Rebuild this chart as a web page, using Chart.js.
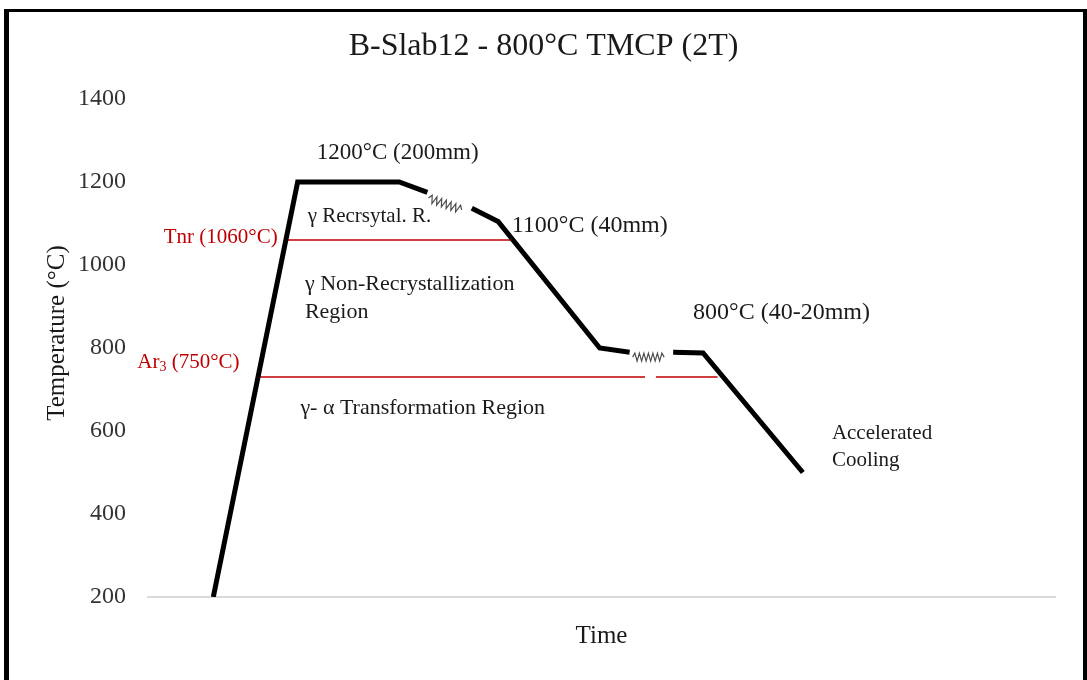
<!DOCTYPE html>
<html>
<head>
<meta charset="utf-8">
<title>B-Slab12 - 800°C TMCP (2T)</title>
<script src="https://cdn.jsdelivr.net/npm/chart.js"></script>
<style>
  html, body { margin: 0; padding: 0; background: #fff; }
  #wrap { width: 1087px; height: 680px; }
</style>
</head>
<body>
<div id="wrap"><canvas id="tmcpChart" width="1087" height="680"></canvas></div>
<script>
// temperature profile (time in arbitrary units, null = break in the line)
const profileTime = [7.2, 16.5, 27.7, 30.8, 33.2, 35.7, 38.6, 49.8, 53.1, 55.5, 57.9, 61.2, 72.2];
const profileTemp = [200, 1200, 1200, 1175, null, 1137, 1105, 800, 790, null, 790, 788, 500];

// Tnr and Ar3 reference lines
const tnrTime = [15.4, 40.1];
const tnrTemp = [1060, 1060];
const ar3Time = [12.1, 54.8, 55.4, 56.0, 62.8];
const ar3Temp = [730, 730, null, 730, 730];

// y axis ticks
const tempMin = 200;
const tempMax = 1400;
const tempStep = 200;

const chartTitle = 'B-Slab12 - 800°C TMCP (2T)';
const yTitle = 'Temperature (°C)';

const serif = "'Liberation Serif', 'Times New Roman', serif";

function toPoints(xs, ys) {
    return xs.map((x, i) => ({ x: x, y: ys[i] }));
}

// the two "break" squiggles sit in the gaps of the profile line
const breakPairs = [[3, 5], [8, 10]];

const squigglePlugin = {
    id: 'squiggles',
    afterDatasetsDraw(chart) {
        const ctx = chart.ctx;
        const xs = chart.scales.x, ys = chart.scales.y;
        ctx.save();
        ctx.strokeStyle = '#4d4d4d';
        ctx.lineWidth = 1.2;
        breakPairs.forEach(([a, b]) => {
            const x1 = xs.getPixelForValue(profileTime[a]);
            const y1 = ys.getPixelForValue(profileTemp[a]);
            const x2 = xs.getPixelForValue(profileTime[b]);
            const y2 = ys.getPixelForValue(profileTemp[b]);
            const len = Math.hypot(x2 - x1, y2 - y1);
            const ux = (x2 - x1) / len, uy = (y2 - y1) / len;
            const nx = -uy, ny = ux;
            const sx = x1 + ux * 3 + nx * 5, sy = y1 + uy * 3 + ny * 5;
            const seg = len - 12;
            const n = 14;
            ctx.beginPath();
            ctx.moveTo(sx, sy);
            for (let i = 1; i <= n; i++) {
                const d = seg * i / n;
                const off = (i === n) ? 0 : (i % 2 ? -4 : 4);
                ctx.lineTo(sx + ux * d + nx * off, sy + uy * d + ny * off);
            }
            ctx.stroke();
        });
        ctx.restore();
    }
};

// text notes, placed in data units
const notes = [
    { text: '1200°C (200mm)', x: 18.6, y: 1270, size: 23, color: '#1a1a1a', align: 'left' },
    { text: 'γ Recrsytal. R.', x: 17.6, y: 1116, size: 21, color: '#1a1a1a', align: 'left' },
    { text: '1100°C (40mm)', x: 40.1, y: 1094, size: 24, color: '#1a1a1a', align: 'left' },
    { text: 'γ Non-Recrystallization', x: 17.3, y: 954, size: 22, color: '#1a1a1a', align: 'left' },
    { text: 'Region', x: 17.3, y: 887, size: 22, color: '#1a1a1a', align: 'left' },
    { text: 'γ- α Transformation Region', x: 16.8, y: 655, size: 22, color: '#1a1a1a', align: 'left' },
    { text: '800°C (40-20mm)', x: 60.1, y: 884, size: 24, color: '#1a1a1a', align: 'left' },
    { text: 'Accelerated', x: 75.4, y: 595, size: 21, color: '#1a1a1a', align: 'left' },
    { text: 'Cooling', x: 75.4, y: 528, size: 21, color: '#1a1a1a', align: 'left' },
    { text: 'Tnr (1060°C)', x: 14.3, y: 1067, size: 21, color: '#c00000', align: 'right' }
];

const notesPlugin = {
    id: 'notes',
    afterDraw(chart) {
        const ctx = chart.ctx;
        const xs = chart.scales.x, ys = chart.scales.y;
        ctx.save();
        ctx.textBaseline = 'middle';

        // chart title, centred on the whole canvas
        ctx.font = '32px ' + serif;
        ctx.fillStyle = '#1a1a1a';
        ctx.textAlign = 'center';
        ctx.fillText(chartTitle, chart.width / 2, 47);

        // y axis title
        ctx.save();
        ctx.translate(57, 333);
        ctx.rotate(-Math.PI / 2);
        ctx.font = '25px ' + serif;
        ctx.fillText(yTitle, 0, 0);
        ctx.restore();

        notes.forEach(n => {
            ctx.font = n.size + 'px ' + serif;
            ctx.fillStyle = n.color;
            ctx.textAlign = n.align;
            ctx.fillText(n.text, xs.getPixelForValue(n.x), ys.getPixelForValue(n.y));
        });

        // Ar3 label with a small subscript
        const ax = xs.getPixelForValue(10.1);
        const ay = ys.getPixelForValue(764);
        ctx.fillStyle = '#c00000';
        ctx.textAlign = 'left';
        ctx.font = '21px ' + serif;
        const tail = ' (750°C)';
        const wAr = ctx.measureText('Ar').width;
        const wTail = ctx.measureText(tail).width;
        ctx.font = '14px ' + serif;
        const wSub = ctx.measureText('3').width;
        const x0 = ax - wAr - wSub - wTail;
        ctx.font = '21px ' + serif;
        ctx.fillText('Ar', x0, ay);
        ctx.font = '14px ' + serif;
        ctx.fillText('3', x0 + wAr, ay + 4);
        ctx.font = '21px ' + serif;
        ctx.fillText(tail, x0 + wAr + wSub, ay);

        // outer frame
        ctx.fillStyle = '#000';
        ctx.fillRect(4, 9, 5, 680);
        ctx.fillRect(4, 9, 1083, 3);
        ctx.fillRect(1083, 9, 4, 680);
        ctx.restore();
    }
};

const ctx = document.getElementById('tmcpChart').getContext('2d');
const tmcpChart = new Chart(ctx, {
    type: 'line',
    data: {
        datasets: [{
            label: 'Profile',
            data: toPoints(profileTime, profileTemp),
            borderColor: '#000',
            borderWidth: 5,
            borderJoinStyle: 'miter',
            borderCapStyle: 'butt',
            pointRadius: 0,
            spanGaps: false,
            tension: 0
        }, {
            label: 'Tnr',
            data: toPoints(tnrTime, tnrTemp),
            borderColor: '#c00000',
            borderWidth: 1.5,
            pointRadius: 0
        }, {
            label: 'Ar3',
            data: toPoints(ar3Time, ar3Temp),
            borderColor: '#c00000',
            borderWidth: 1.5,
            pointRadius: 0,
            spanGaps: false
        }]
    },
    options: {
        responsive: false,
        animation: false,
        layout: { padding: { left: 0, right: 32, top: 99, bottom: 0 } },
        plugins: {
            legend: { display: false },
            tooltip: { enabled: false },
            title: { display: false }
        },
        scales: {
            x: {
                type: 'linear',
                min: 0,
                max: 100,
                grid: { display: false },
                border: { display: true, color: '#d9d9d9', width: 2 },
                ticks: { display: false },
                title: {
                    display: true,
                    text: 'Time',
                    color: '#1a1a1a',
                    font: { family: serif, size: 25 },
                    padding: { top: 0, bottom: 29 }
                },
                afterFit(scale) { scale.height = 83; }
            },
            y: {
                min: tempMin,
                max: tempMax,
                grid: { display: false, drawTicks: false },
                border: { display: false },
                ticks: {
                    stepSize: tempStep,
                    padding: 22,
                    color: '#333',
                    font: { family: serif, size: 24 },
                    callback: (v) => String(v)
                },
                title: { display: false },
                afterFit(scale) { scale.width = 148; }
            }
        }
    },
    plugins: [squigglePlugin, notesPlugin]
});
</script>
</body>
</html>
